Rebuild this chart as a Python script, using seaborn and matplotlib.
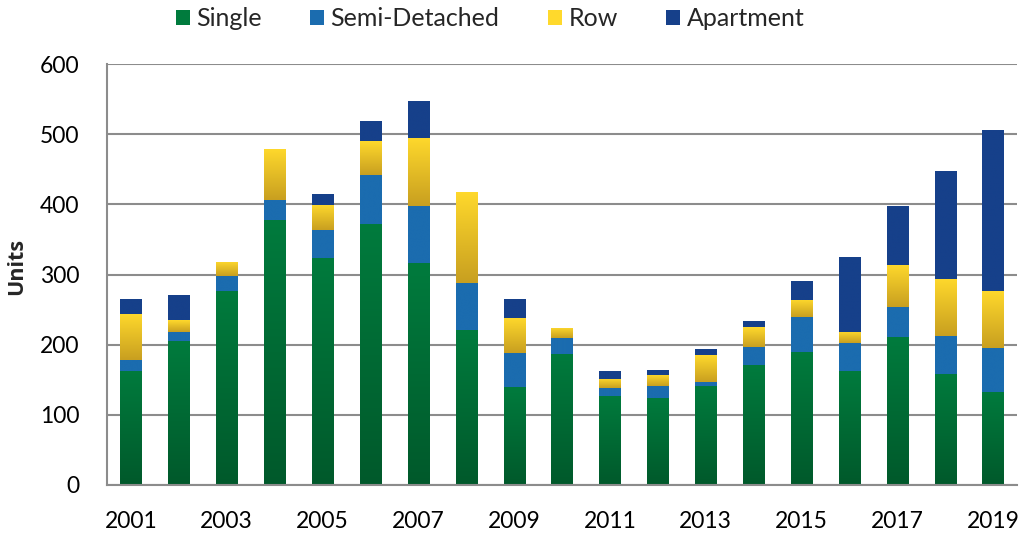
import numpy as np
import pandas as pd
import matplotlib
matplotlib.use("Agg")
import matplotlib.pyplot as plt
import seaborn as sns
from matplotlib.colors import LinearSegmentedColormap
from matplotlib.patches import Patch

years = [str(y) for y in range(2001, 2020)]
single = [163, 205, 277, 378, 324, 372, 316, 221, 139, 187, 127, 124, 141, 171, 190, 163, 211, 158, 133]
semi = [15, 13, 21, 28, 39, 70, 82, 67, 49, 22, 11, 17, 6, 26, 49, 39, 43, 54, 62]
row = [66, 17, 20, 73, 36, 48, 97, 130, 50, 15, 13, 16, 38, 28, 25, 16, 60, 82, 82]
apartment = [21, 36, 0, 0, 16, 29, 53, 0, 27, 0, 11, 7, 9, 9, 27, 107, 84, 154, 229]
series_names = ["Single", "Semi-Detached", "Row", "Apartment"]

sns.set_theme(style="white")
plt.rcParams['font.family'] = ['Lato', 'DejaVu Sans']

# colours: (top, bottom) of the gradient
grad = {
    "Single": ("#007B3D", "#00592B"),
    "Semi-Detached": ("#1B6CAF", "#1B6CAF"),
    "Row": ("#FFD92C", "#C89F20"),
    "Apartment": ("#16408A", "#16408A"),
}

df = pd.DataFrame({"Year": years, "Single": single, "Semi-Detached": semi,
                   "Row": row, "Apartment": apartment})
cum = df[series_names].cumsum(axis=1)
bottoms = cum.shift(1, axis=1).fillna(0)

fig = plt.figure(figsize=(10.23, 5.35), dpi=100)
ax = fig.add_axes([0.1046, 0.0935, 0.8895, 0.7865])

width = 0.44
order = series_names[::-1]  # draw tallest cumulative first
for z, name in enumerate(order):
    n_before = len(ax.patches)
    sns.barplot(x=df["Year"], y=cum[name], color=grad[name][0], saturation=1,
                width=width, ax=ax, zorder=3 + 2 * z, linewidth=0)
    new_patches = ax.patches[n_before:]
    top_c, bot_c = grad[name]
    cmap = LinearSegmentedColormap.from_list(name, [bot_c, top_c])
    g = np.linspace(0, 1, 256).reshape(-1, 1)
    for i, p in enumerate(new_patches):
        x0 = p.get_x()
        w = p.get_width()
        y0 = bottoms[name].iloc[i]
        y1 = cum[name].iloc[i]
        if y1 - y0 <= 0:
            continue
        im = ax.imshow(g, cmap=cmap, origin="lower", aspect="auto",
                       extent=[x0, x0 + w, y0, y1], zorder=3 + 2 * z + 1,
                       interpolation="bilinear")
        im.set_clip_path(p)

ax.set_xlim(-0.5, len(years) - 0.5)
ax.set_ylim(0, 600)
ax.set_yticks(range(0, 601, 100))
ax.yaxis.grid(True, color="#8C8C8C", linewidth=1.5, zorder=0)
ax.set_axisbelow(True)

ax.set_xticks(range(0, len(years), 2))
ax.set_xticklabels(years[::2])
ax.set_xticks(np.arange(-0.5, len(years), 1.0), minor=True)
ax.tick_params(axis="x", which="major", length=0, labelsize=16.5, pad=19, colors="black")
ax.tick_params(axis="x", which="minor", length=8, width=1.5, color="#8C8C8C", direction="out")
ax.tick_params(axis="y", which="major", length=7, width=1.5, color="#8C8C8C",
               direction="out", labelsize=16.5, pad=13)
for lab in ax.get_yticklabels():
    lab.set_color("black")

for s in ["top", "right"]:
    ax.spines[s].set_visible(False)
for s in ["left", "bottom"]:
    ax.spines[s].set_color("#8C8C8C")
    ax.spines[s].set_linewidth(1.5)
    ax.spines[s].set_zorder(20)

ax.set_xlabel("")
ax.set_ylabel("Units", fontsize=15.5, fontweight="bold", labelpad=12,
              family=["Open Sans", "DejaVu Sans"])
ax.yaxis.set_label_coords(-0.088, 0.52)

handles = [Patch(facecolor=grad[n][0], edgecolor="none") for n in series_names]
fig.legend(handles, series_names, loc="center", ncol=4,
           bbox_to_anchor=(0.479, 0.965), frameon=False, fontsize=18,
           handlelength=0.56, handleheight=0.56, handletextpad=0.25,
           columnspacing=1.95, borderpad=0)

fig.savefig("out.png", dpi=100)
